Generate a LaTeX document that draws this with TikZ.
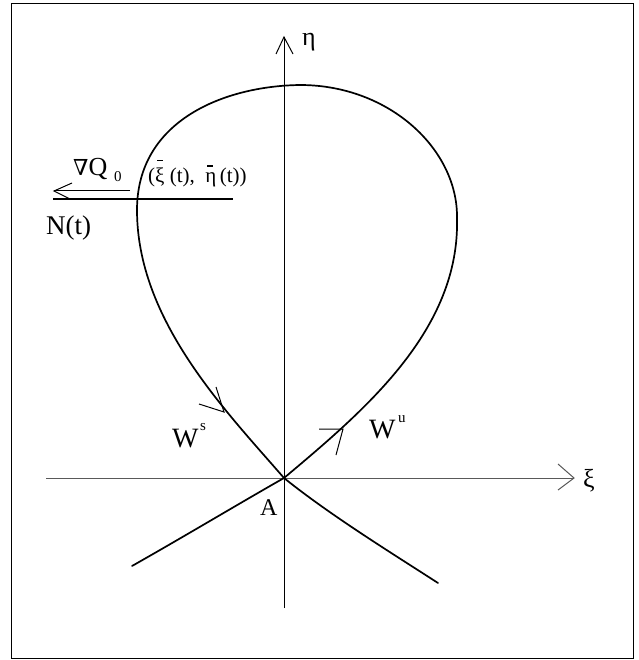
\documentclass[tikz,border=0pt]{standalone}
\usepackage{fontspec}
\setmainfont{Liberation Serif}
\newfontfamily\nablafont{DejaVu Serif}
\newcommand\obar[3]{\leavevmode\rlap{\hspace{#3}\raisebox{#2}{\rule{0.28em}{0.055em}}}#1}
\begin{document}
\begin{tikzpicture}[x=1pt,y=-1pt,
  curve/.style={line width=1.7pt,line join=round,line cap=round},
  axisline/.style={line width=1pt},
  thinline/.style={line width=1pt},
  lbl/.style={inner sep=0pt,anchor=base west,font=\fontsize{26}{26}\selectfont},
  sublbl/.style={inner sep=0pt,anchor=base west,font=\fontsize{15}{15}\selectfont}]
\useasboundingbox (0,0) rectangle (638,660);
\draw[line width=1.3pt] (11.5,3.5) rectangle (633.5,658.5);
% axes
\coordinate (A) at (284,478);
\coordinate (xs) at (46,478);
\coordinate (xe) at (574,478);
\coordinate (ys) at (284,608);
\coordinate (ye) at (284,37);
\draw[axisline,black!65] (xs) -- (xe);
\draw[axisline,black!65] (558,464) -- (xe) -- (558,490);
\draw[axisline] (ys) -- (ye);
\draw[axisline] (276,54) -- (ye) -- (293,54);
% loop
\coordinate (R) at (457,218);
\coordinate (T) at (300,85);
\coordinate (L) at (137,210);
\coordinate (LL) at (132,566);
\coordinate (LR) at (438,583);
\draw[curve] (A) .. controls (365,410) and (460,330) .. (R)
  .. controls (458,150) and (390,85) .. (T)
  .. controls (225,86) and (137,120) .. (L)
  .. controls (137,320) and (225,410) .. (A)
  .. controls (330,515) and (390,552) .. (LR);
\draw[curve] (A) .. controls (240,503) and (185,536) .. (LL);
% direction marks
\draw[thinline] (199,404) -- (224,412) -- (216,387);
\draw[thinline] (319,429) -- (343,429) -- (336,455);
% normal line and gradient
\coordinate (ns) at (53,199);
\coordinate (ne) at (233,199);
\draw[line width=1.5pt] (ns) -- (ne);
\draw[line width=2.6pt] (226,199) -- (ne);
\coordinate (gs) at (130,191);
\coordinate (ge) at (54,191);
\draw[thinline] (gs) -- (ge);
\draw[thinline] (72,183) -- (ge) -- (70,199);
% labels
\node[lbl] (eta) at (302,46) {η};
\node[lbl] (xi) at (583,487) {ξ};
\node[lbl,font=\fontsize{24}{24}\selectfont] (Alab) at (260,515) {A};
\node[lbl,font=\fontsize{27}{27}\selectfont] (Nt) at (46,234) {N(t)};
\node[lbl] (grad) at (73,176) {{\nablafont\fontsize{22}{22}\selectfont ∇}Q};
\node[sublbl] (zero) at (114,182) {0};
\node[lbl,font=\fontsize{21}{21}\selectfont] (pt) at (148,183)
  {(\obar{ξ}{1.05em}{0.1em}\ (t),\ \ \obar{η}{0.78em}{0.1em}\,(t))};
\node[lbl,font=\fontsize{28}{28}\selectfont] (Ws) at (172,447) {W};
\node[sublbl] (s) at (200,430) {s};
\node[lbl,font=\fontsize{28}{28}\selectfont] (Wu) at (369,438) {W};
\node[sublbl] (u) at (398,422) {u};
\end{tikzpicture}
\end{document}
